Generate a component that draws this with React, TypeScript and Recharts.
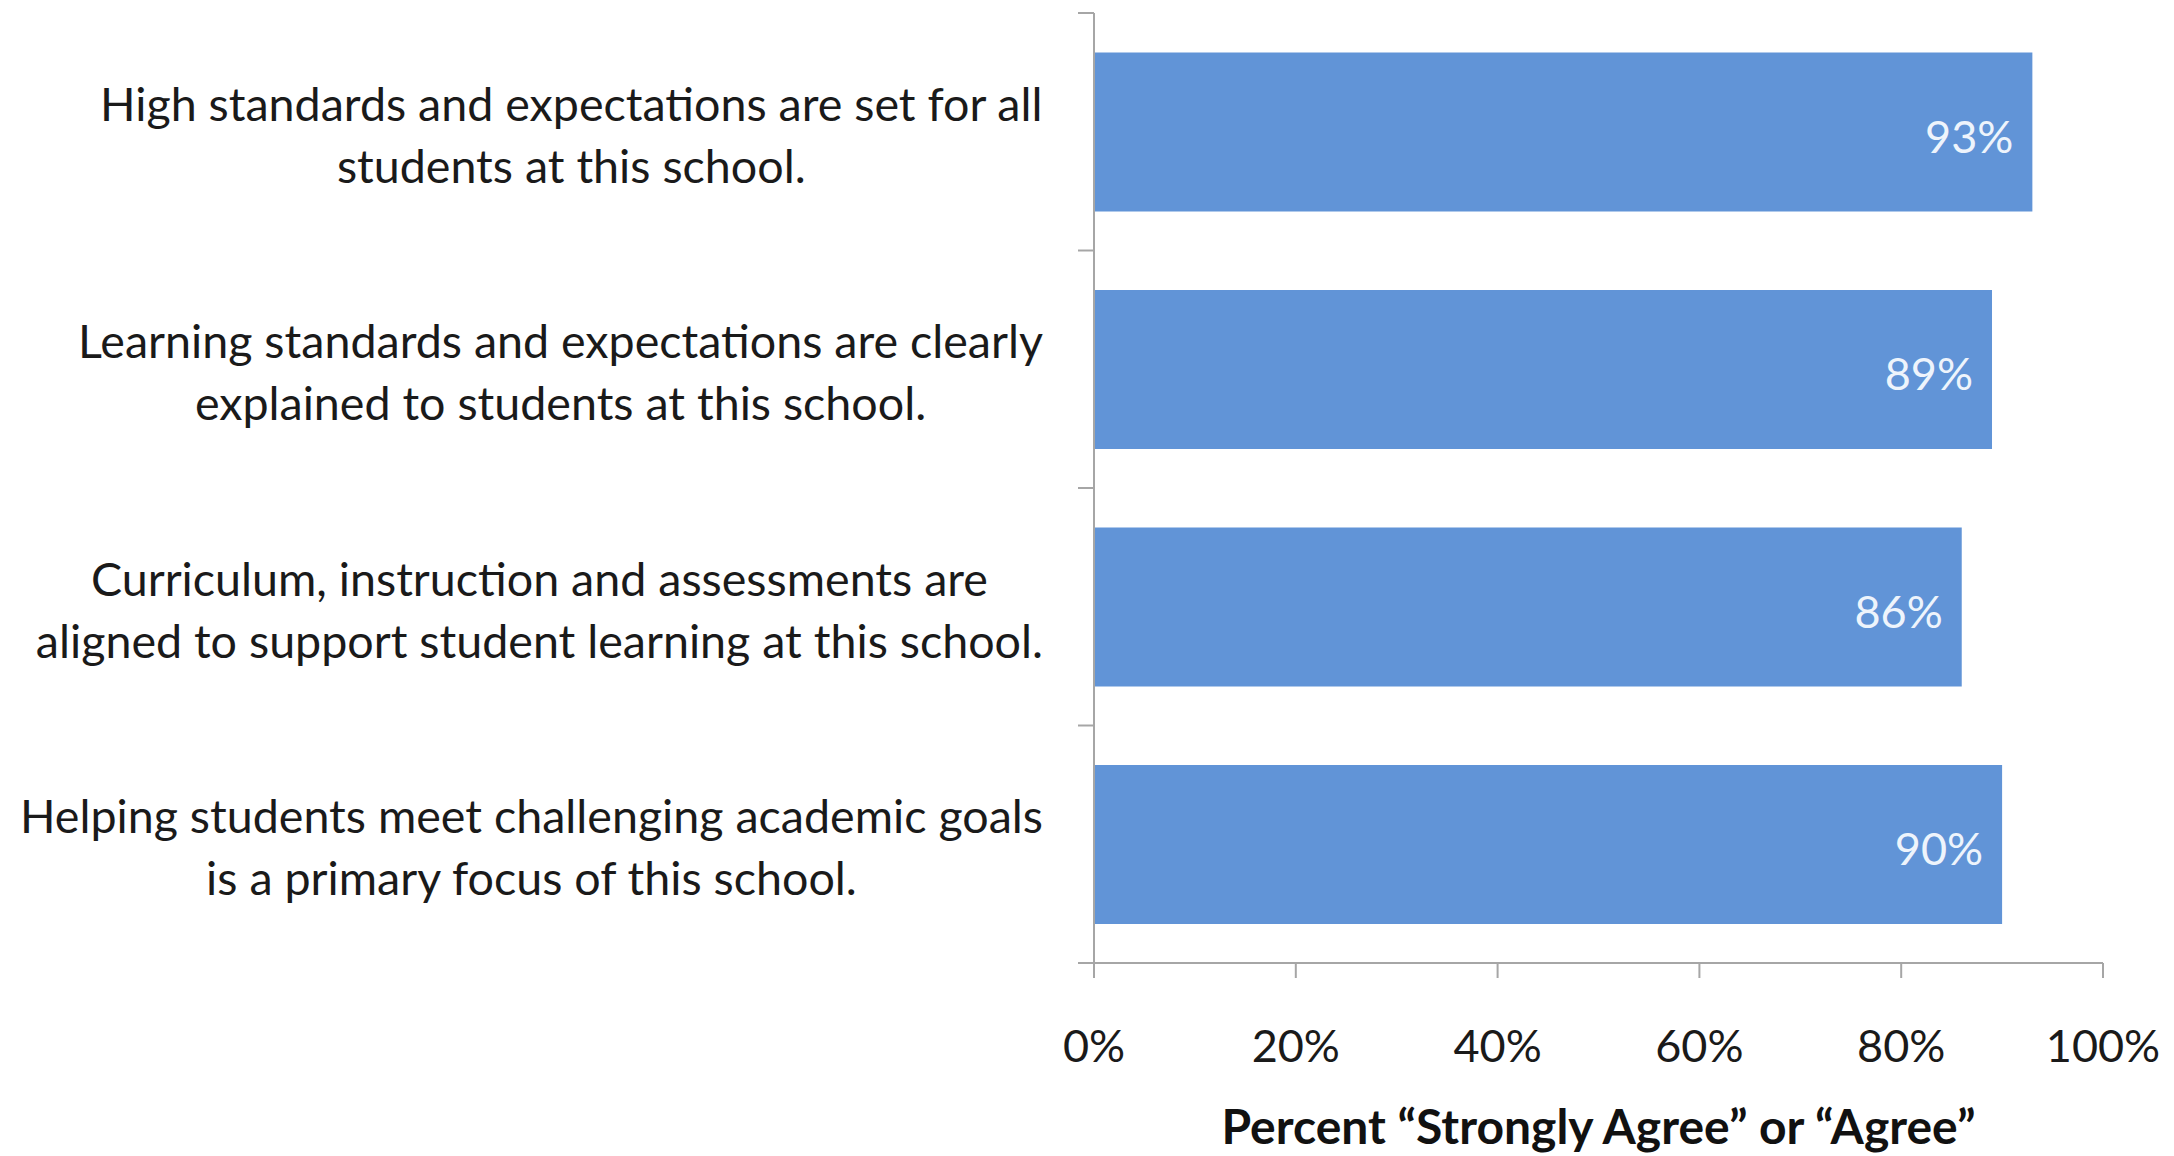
import React from 'react';
import { BarChart, Bar, XAxis, YAxis, LabelList, Label } from 'recharts';

// survey statements, top to bottom (each split into the two lines shown)
const statements = [
    ['High standards and expectations are set for all', 'students at this school.'],
    ['Learning standards and expectations are clearly', 'explained to students at this school.'],
    ['Curriculum, instruction and assessments are', 'aligned to support student learning at this school.'],
    ['Helping students meet challenging academic goals', 'is a primary focus of this school.'],
];
const agreePct = [93, 89, 86, 90];
const xTicks = [0, 20, 40, 60, 80, 100];
const xTitle = 'Percent \u201CStrongly Agree\u201D or \u201CAgree\u201D';

const data = statements.map((lines, i) => ({
    name: lines.join(' '),
    lines,
    value: agreePct[i],
}));

const FONT = 'Lato, "Open Sans", sans-serif';
const AXIS = '#a6a6a6';
const BAR = '#6194d7';
const TICK_SIZE = 16;
const TICK_MARGIN = 35;
const LABEL_SIZE = 46.6;

let ctx: CanvasRenderingContext2D | null = null;
const measure = (s: string) => {
    if (!ctx) ctx = document.createElement('canvas').getContext('2d');
    if (!ctx) return s.length * LABEL_SIZE * 0.5;
    ctx.font = `${LABEL_SIZE}px Lato`;
    return ctx.measureText(s).width;
};

// category label (lines centred, block right-aligned) + boundary tick marks
const StatementTick = (props: any) => {
    const { x, y, payload, index, visibleTicksCount } = props;
    const lines: string[] = data[index]?.lines ?? [String(payload.value)];
    const half = payload.offset ?? 0;
    const axisX = x + TICK_MARGIN + TICK_SIZE;
    const blockW = Math.max(...lines.map(measure));
    const cx = x - blockW / 2;
    return (
        <g>
            <line x1={axisX - TICK_SIZE} x2={axisX} y1={y - half} y2={y - half} stroke={AXIS} strokeWidth={2} />
            {index === visibleTicksCount - 1 && (
                <line x1={axisX - TICK_SIZE} x2={axisX} y1={y + half} y2={y + half} stroke={AXIS} strokeWidth={2} />
            )}
            <text x={cx} y={y} textAnchor="middle" fontFamily={FONT} fontSize={LABEL_SIZE} fill="#1a1a1a">
                <tspan x={cx} dy={-11}>{lines[0]}</tspan>
                <tspan x={cx} dy={62}>{lines[1]}</tspan>
            </text>
        </g>
    );
};

export default function App() {
    return (
        <div style={{ position: 'absolute', left: 0, top: 0, width: 2174, height: 1156, background: '#fff' }}>
            <BarChart
                width={2174}
                height={1156}
                data={data}
                layout="vertical"
                margin={{ top: 13, right: 71, left: 0, bottom: 0 }}
                barCategoryGap="16.6%"
            >
                <XAxis
                    type="number"
                    domain={[0, 100]}
                    ticks={xTicks}
                    tickFormatter={(v: number) => `${v}%`}
                    height={193}
                    tickSize={15}
                    tickMargin={52}
                    axisLine={{ stroke: AXIS, strokeWidth: 2 }}
                    tickLine={{ stroke: AXIS, strokeWidth: 2 }}
                    tick={{ fontFamily: FONT, fontSize: 45, fill: '#1a1a1a' }}
                >
                    <Label
                        value={xTitle}
                        position="insideBottom"
                        offset={12}
                        style={{ fontFamily: FONT, fontSize: 48, fontWeight: 700, fill: '#111' }}
                    />
                </XAxis>
                <YAxis
                    type="category"
                    dataKey="name"
                    width={1094}
                    tickSize={TICK_SIZE}
                    tickMargin={TICK_MARGIN}
                    tickLine={false}
                    axisLine={{ stroke: AXIS, strokeWidth: 2 }}
                    tick={<StatementTick />}
                    interval={0}
                />
                <Bar dataKey="value" fill={BAR} isAnimationActive={false}>
                    <LabelList
                        dataKey="value"
                        position="insideRight"
                        offset={19}
                        dy={5}
                        formatter={(v: any) => `${v}%`}
                        style={{ fontFamily: FONT, fontSize: 45, fill: '#eef4fc' }}
                    />
                </Bar>
            </BarChart>
        </div>
    );
}
